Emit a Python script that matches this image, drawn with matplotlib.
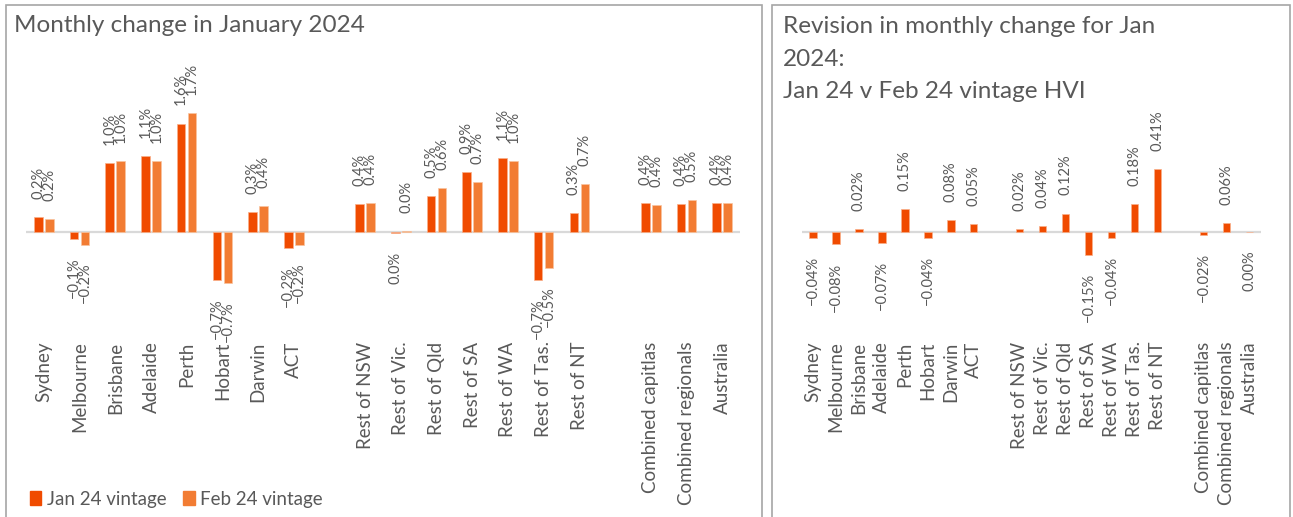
import matplotlib.pyplot as plt
from matplotlib.patches import Rectangle, Patch

plt.rcParams['font.family'] = ['Lato', 'DejaVu Sans']

# categories ('' = empty gap slot)
categories = ['Sydney', 'Melbourne', 'Brisbane', 'Adelaide', 'Perth', 'Hobart', 'Darwin', 'ACT', '',
              'Rest of NSW', 'Rest of Vic.', 'Rest of Qld', 'Rest of SA', 'Rest of WA', 'Rest of Tas.',
              'Rest of NT', '', 'Combined capitlas', 'Combined regionals', 'Australia']

# monthly change, % (None = gap)
jan_vintage = [0.22, -0.10, 0.99, 1.09, 1.55, -0.69, 0.29, -0.23, None,
               0.40, -0.02, 0.51, 0.86, 1.06, -0.69, 0.27, None, 0.41, 0.40, 0.41]
feb_vintage = [0.18, -0.18, 1.01, 1.02, 1.70, -0.73, 0.37, -0.18, None,
               0.42, 0.02, 0.63, 0.71, 1.02, -0.51, 0.68, None, 0.39, 0.46, 0.41]
revision = [-0.04, -0.08, 0.02, -0.07, 0.15, -0.04, 0.08, 0.05, None,
            0.02, 0.04, 0.12, -0.15, -0.04, 0.18, 0.41, None, -0.02, 0.06, -0.001]

JAN_COL = '#F04B00'
FEB_COL = '#F27C33'
TXT = '#595959'
W, H = 1293, 517


def fmt(v, nd):
    s = f'{v:.{nd}f}'
    if float(s) == 0:
        s = f'{0:.{nd}f}'
    return s.replace('-', '\u2212') + '%'


def label_bars(ax, xs, vals, nd):
    for x, v in zip(xs, vals):
        off = 13 if v >= 0 else -13
        ax.annotate(fmt(v, nd), (x, v), xytext=(0, off), textcoords='offset points',
                    rotation=90, ha='center', va='bottom' if v >= 0 else 'top',
                    fontsize=10.5, color=TXT)


def style(ax):
    for s in ax.spines.values():
        s.set_visible(False)
    ax.set_yticks([])
    ax.axhline(0, color='#d9d9d9', lw=1.6, zorder=1)
    ax.set_xlim(-0.5, len(categories) - 0.5)
    ax.set_xticks(range(len(categories)))
    ax.set_xticklabels(categories, rotation=90, fontsize=13.5, color=TXT, va='top')
    ax.tick_params(axis='x', length=0, pad=1)


fig = plt.figure(figsize=(W / 100, H / 100), dpi=100)

# panel frames
for x0, x1 in [(6, 762), (772, 1290)]:
    fig.patches.append(Rectangle((x0 / W, -0.05), (x1 - x0) / W, 1.05 - 5 / H,
                                 transform=fig.transFigure, fill=False,
                                 edgecolor='#a6a6a6', lw=1.2))

# left chart
ax1 = fig.add_axes([26 / W, (H - 340) / H, (740 - 26) / W, 280 / H])
idx = [i for i, v in enumerate(jan_vintage) if v is not None]
bw = 0.24
jx = [i - 0.155 for i in idx]
fx = [i + 0.155 for i in idx]
jv = [jan_vintage[i] for i in idx]
fv = [feb_vintage[i] for i in idx]
ax1.bar(jx, jv, bw, color=JAN_COL, edgecolor='#f9b08a', lw=0.5, zorder=2)
ax1.bar(fx, fv, bw, color=FEB_COL, edgecolor='#f9c4a0', lw=0.5, zorder=2)
label_bars(ax1, jx, jv, 1)
label_bars(ax1, fx, fv, 1)
style(ax1)
ax1.set_ylim((232 - 340) / 70, (232 - 60) / 70)
fig.text(14 / W, 1 - 26 / H, 'Monthly change in January 2024', fontsize=17.5,
         color=TXT, va='center', ha='left')
fig.legend(handles=[Patch(color=JAN_COL, label='Jan 24 vintage'),
                    Patch(color=FEB_COL, label='Feb 24 vintage')],
           loc='center left', bbox_to_anchor=(13 / W, 1 - 499 / H), ncol=2,
           frameon=False, fontsize=13.5, handlelength=0.6, handleheight=0.8,
           handletextpad=0.3, columnspacing=0.9, labelcolor=TXT)

# right chart
ax2 = fig.add_axes([801.5 / W, (H - 340) / H, (1261 - 801.5) / W, 240 / H])
rx = idx
rv = [revision[i] for i in idx]
ax2.bar(rx, rv, 0.32, color=JAN_COL, edgecolor='#f9b08a', lw=0.5, zorder=2)
label_bars(ax2, rx, rv, 2)
style(ax2)
ax2.set_ylim((232 - 340) / 154, (232 - 100) / 154)
right_title = ['Revision in monthly change for Jan', '2024:', 'Jan 24 v Feb 24 vintage HVI']
for line, yc in zip(right_title, [27, 60, 92]):
    fig.text(783 / W, 1 - yc / H, line, fontsize=17.5, color=TXT, va='center', ha='left')

fig.savefig('out.png', dpi=100)
